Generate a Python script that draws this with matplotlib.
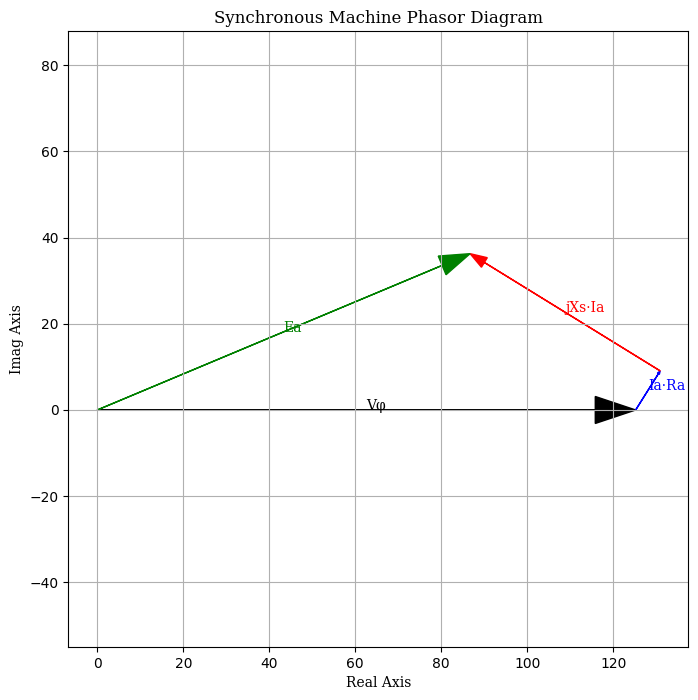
import numpy as np
import matplotlib
matplotlib.use("Agg")
import matplotlib.pyplot as plt

# Phasor tips (data units)
V_phi = (125.2, 0.0)
Ia_Ra = (5.7, 9.07)
jXs_Ia = (-44.2, 27.2)
labels = ["Vφ", "Ia·Ra", "jXs·Ia", "Ea"]
colors = ["black", "blue", "red", "green"]

fig = plt.figure(figsize=(6.98, 7.0), dpi=100)
ax = fig.add_axes([68.3 / 698, (700 - 647) / 700, 620 / 698, 615.7 / 700])

start_ia = np.array(V_phi)
end_ia = start_ia + np.array(Ia_Ra)
end_jx = end_ia + np.array(jXs_Ia)
Ea = end_jx

segments = [
    (np.array([0.0, 0.0]), np.array(V_phi)),
    (start_ia, np.array(Ia_Ra)),
    (end_ia, np.array(jXs_Ia)),
    (np.array([0.0, 0.0]), Ea),
]

for (s, d), lab, c in zip(segments, labels, colors):
    mag = np.hypot(*d)
    ax.arrow(s[0], s[1], d[0], d[1], head_width=0.05 * mag,
             length_includes_head=True, color=c, linewidth=1)
    mid = s + d / 2
    ax.text(mid[0], mid[1], lab, color=c, family="serif", fontsize=10)

ax.set_xlim(-6.74, 137.44)
ax.set_ylim(-55.0, 87.87)
ax.grid(True)
ax.set_title("Synchronous Machine Phasor Diagram", family="serif", fontsize=12)
ax.set_xlabel("Real Axis", family="serif")
ax.set_ylabel("Imag Axis", family="serif")

fig.savefig("out.png", dpi=100)
